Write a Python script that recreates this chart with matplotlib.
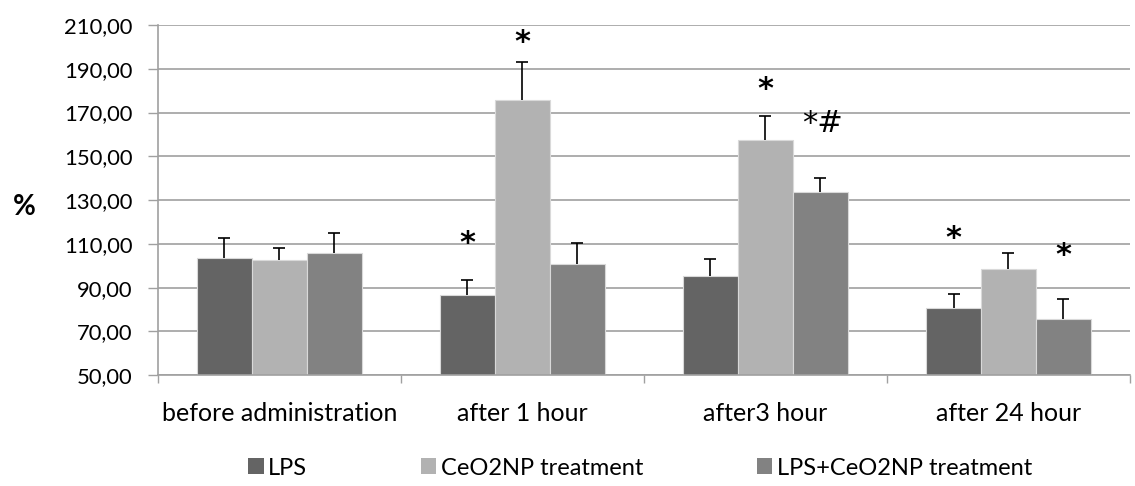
import numpy as np
import matplotlib.pyplot as plt
from matplotlib.patches import Patch
from matplotlib.ticker import FuncFormatter

plt.rcParams['font.family'] = ['Lato', 'DejaVu Sans']

## DATA ##
categories = ["before administration", "after 1 hour", "after3 hour", "after 24 hour"]
series_names = ["LPS", "CeO2NP treatment", "LPS+CeO2NP treatment"]
lps = [103.5, 86.6, 95.3, 80.9]
ceo2 = [102.6, 175.7, 157.4, 98.6]
lps_ceo2 = [105.8, 100.7, 133.7, 75.9]
lps_err = [9.1, 6.8, 8.0, 6.1]
ceo2_err = [5.4, 17.3, 11.2, 7.3]
lps_ceo2_err = [9.1, 9.8, 6.5, 9.1]

# significance marks: (category index, series index, label, y position)
marks = [
    (1, 0, "*", 110.3),
    (1, 1, "*", 202.2),
    (2, 1, "*", 180.3),
    (2, 2, "*#", 165.2),
    (3, 0, "*", 112.6),
    (3, 2, "*", 104.9),
]

colors = ["#646464", "#b2b2b2", "#828282"]

fig = plt.figure(figsize=(11.35, 4.86), dpi=100)
ax = fig.add_axes([0.139, 0.228, 0.8566, 0.7206])

x = np.arange(len(categories))
width = 0.226
values = [lps, ceo2, lps_ceo2]
errors = [lps_err, ceo2_err, lps_ceo2_err]

for i, (vals, errs) in enumerate(zip(values, errors)):
    pos = x + (i - 1) * width
    vals = np.array(vals)
    tops = vals + np.array(errs)
    ax.bar(pos, vals - 50, width, bottom=50, color=colors[i],
           edgecolor="#d9d9d9", linewidth=0.8, zorder=2)
    # upper error bars only
    ax.vlines(pos, vals, tops, color="black", linewidth=1.2, zorder=3)
    ax.plot(pos, tops, linestyle="none", marker="_", markersize=9,
            markeredgewidth=1.2, color="black", zorder=3)

for ci, si, label, ypos in marks:
    xpos = ci + (si - 1) * width
    if label == "*#":
        xpos += 0.01
        ax.text(xpos, ypos, label, ha="center", va="center",
                fontsize=22, family=["DejaVu Sans"], zorder=4)
    else:
        ax.text(xpos, ypos, label, ha="center", va="center",
                fontsize=22, fontweight="bold", family=["DejaVu Sans"],
                zorder=4)

ax.set_xlim(-0.5, len(categories) - 0.5)
ax.set_ylim(50, 210)
ax.set_yticks(np.arange(50, 211, 20))
ax.yaxis.set_major_formatter(FuncFormatter(lambda v, p: f"{v:.2f}".replace(".", ",")))
ax.yaxis.grid(True, color="#a0a0a0", linewidth=1.2, zorder=0)
ax.set_axisbelow(True)

ax.set_xticks(x)
ax.set_xticklabels(categories)
ax.set_xticks(np.arange(-0.5, len(categories) + 0.5, 1), minor=True)
ax.tick_params(axis="x", which="major", length=0, pad=19.5, labelsize=18)
ax.tick_params(axis="x", which="minor", length=6, color="#a0a0a0", width=1)
ax.tick_params(axis="y", length=7, color="#a0a0a0", width=1, labelsize=15.8, pad=11)

for side in ["top", "right"]:
    ax.spines[side].set_visible(False)
for side in ["left", "bottom"]:
    ax.spines[side].set_color("#a0a0a0")
    ax.spines[side].set_linewidth(1.2)

fig.text(0.011, 0.575, "%", fontsize=20, fontweight="bold", ha="left", va="center")

handles = [Patch(facecolor=c, edgecolor="none") for c in colors]
fig.legend(handles, series_names, loc="center left", bbox_to_anchor=(0.2, 0.037),
           ncol=3, frameon=False, fontsize=17, handlelength=0.65,
           handleheight=0.65, handletextpad=0.2, columnspacing=4.8)

fig.savefig("out.png", dpi=100)
